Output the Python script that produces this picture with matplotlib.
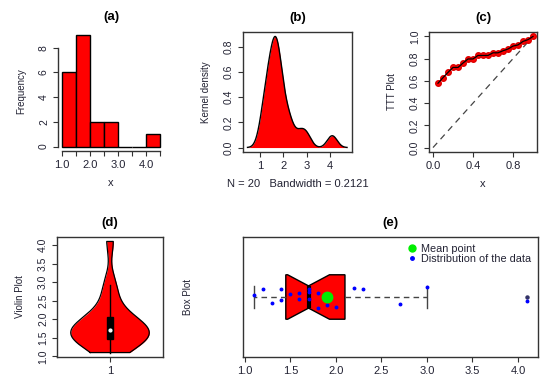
import numpy as np
import matplotlib.pyplot as plt
from matplotlib.lines import Line2D

# sample of 20 observations (read from the jittered points / histogram)
x_data = [1.1, 1.2, 1.3, 1.4, 1.4, 1.5, 1.6, 1.6, 1.7, 1.7,
          1.7, 1.8, 1.8, 1.9, 2.0, 2.2, 2.3, 2.7, 3.0, 4.1]
# vertical jitter of the blue points in panel (e), same order as x_data
jitter_y = [0.015, 0.07, -0.05, 0.07, -0.03, 0.03, 0.04, -0.015, 0.075, 0.045,
            -0.02, 0.04, -0.1, -0.075, -0.09, 0.08, 0.07, -0.06, 0.09, -0.04]
hist_breaks = [1.0, 1.5, 2.0, 2.5, 3.0, 3.5, 4.0, 4.5]
violin_bw = 0.33  # smoothing of the violin outline, estimated from its shape

TXT = '#222233'
LINE = '#333333'
plt.rcParams['font.family'] = ['Liberation Sans', 'DejaVu Sans']
plt.rcParams['font.size'] = 7
plt.rcParams['axes.edgecolor'] = LINE
plt.rcParams['axes.linewidth'] = 1.0
plt.rcParams['xtick.color'] = LINE
plt.rcParams['ytick.color'] = LINE
plt.rcParams['xtick.labelcolor'] = TXT
plt.rcParams['ytick.labelcolor'] = TXT
plt.rcParams['xtick.labelsize'] = 8
plt.rcParams['ytick.labelsize'] = 7.5
plt.rcParams['xtick.major.size'] = 3.5
plt.rcParams['ytick.major.size'] = 3.5
plt.rcParams['axes.labelcolor'] = TXT

W, H = 550, 385
fig = plt.figure(figsize=(W / 100, H / 100), dpi=100)


def px_axes(l, t, r, b):
    return fig.add_axes([l / W, (H - b) / H, (r - l) / W, (b - t) / H])


def r_style(ax, title, xlabel, ylabel):
    ax.set_title(title, fontsize=9.5, fontweight='bold', pad=8, color='black')
    ax.set_xlabel(xlabel, labelpad=6, fontsize=8)
    ax.set_ylabel(ylabel, labelpad=9, fontsize=7)
    ax.tick_params(axis='y', labelrotation=90, pad=3)
    ax.tick_params(axis='x', pad=3)
    for lab in ax.get_yticklabels():
        lab.set_va('center')


x = np.sort(np.array(x_data))
n = len(x)

# R helpers
q25, q75 = np.percentile(x, [25, 75])
sd = x.std(ddof=1)
bw = 0.9 * min(sd, (q75 - q25) / 1.34) * n ** -0.2


def kde(grid, h):
    z = (grid[:, None] - x[None, :]) / h
    return np.exp(-0.5 * z ** 2).sum(axis=1) / (n * h * np.sqrt(2 * np.pi))


def fivenum(v):
    n4 = np.floor((len(v) + 3) / 2) / 2
    d = np.array([1, n4, (len(v) + 1) / 2, len(v) + 1 - n4, len(v)])
    return 0.5 * (v[np.floor(d).astype(int) - 1] + v[np.ceil(d).astype(int) - 1])


# (a) histogram
ax = px_axes(58, 31, 164, 151)
edges = np.array(hist_breaks)
idx = np.searchsorted(edges, x, side='left') - 1
idx[idx < 0] = 0
counts = np.bincount(idx, minlength=len(edges) - 1)
ax.bar(edges[:-1], counts, width=0.5, align='edge', color='red',
       edgecolor='black', linewidth=1.0)
ax.set_xlim(0.86, 4.64)
ax.set_ylim(-0.36, 9.36)
ax.set_xticks(edges)
ax.set_xticklabels(['1.0', '', '2.0', '', '3.0', '', '4.0', ''])
ax.set_yticks([0, 2, 4, 6, 8])
for s in ['top', 'right']:
    ax.spines[s].set_visible(False)
ax.spines['left'].set_bounds(0, 8)
ax.spines['bottom'].set_bounds(1.0, 4.5)
r_style(ax, '(a)', 'x', 'Frequency')

# (b) kernel density
ax = px_axes(243, 32, 352, 152)
grid = np.linspace(x.min() - 3 * bw, x.max() + 3 * bw, 512)
dens = kde(grid, bw)
ax.fill_between(grid, dens, color='red', linewidth=0)
ax.plot(grid, dens, color='black', lw=1.0)
ax.set_xlim(0.27, 4.95)
ax.set_ylim(-0.04 * dens.max(), dens.max() * 1.04)
ax.set_xticks([1, 2, 3, 4])
ax.set_yticks([0.0, 0.2, 0.4, 0.6, 0.8])
ax.set_yticklabels(['0.0', '0.2', '0.4', '0.6', '0.8'])
r_style(ax, '(b)', 'N = %d   Bandwidth = %.4f' % (n, bw), 'Kernel density')

# (c) TTT plot
ax = px_axes(429, 32, 537, 152)
cum = np.cumsum(x)
i = np.arange(1, n + 1)
ttt = (cum + (n - i) * x) / cum[-1]
u = i / n
ax.plot([0, 1], [0, 1], color='#444444', lw=0.9, ls=(0, (5, 4)))
ax.plot(u, ttt, 'o', color='red', mec='#dd0000', ms=4, zorder=3)
ax.plot(u, ttt, color='black', lw=0.9, zorder=4)
ax.set_xlim(-0.04, 1.04)
ax.set_ylim(-0.04, 1.04)
ax.set_xticks([0.0, 0.4, 0.8])
ax.set_xticklabels(['0.0', '0.4', '0.8'])
ax.set_yticks([0.0, 0.2, 0.4, 0.6, 0.8, 1.0])
ax.set_yticklabels(['0.0', '0.2', '0.4', '0.6', '0.8', '1.0'])
r_style(ax, '(c)', 'x', 'TTT Plot')

# (d) violin plot
ax = px_axes(57, 237, 163, 357)
vg = np.linspace(x.min(), x.max(), 300)
vd = kde(vg, violin_bw)
half = 0.4 * vd / vd.max()
ax.fill_betweenx(vg, 1 - half, 1 + half, color='red', linewidth=0)
ax.plot(np.concatenate([1 - half, (1 + half)[::-1], [1 - half[0]]]),
        np.concatenate([vg, vg[::-1], [vg[0]]]), color='black', lw=0.9)
iqr = q75 - q25
w_lo = max(x.min(), q25 - 1.5 * iqr)
w_hi = min(x.max(), q75 + 1.5 * iqr)
ax.plot([1, 1], [w_lo, w_hi], color='black', lw=1.0)
ax.add_patch(plt.Rectangle((0.97, q25), 0.06, q75 - q25, color='black'))
ax.plot([1], [np.median(x)], 'o', color='white', ms=2)
ax.set_xlim(0.46, 1.54)
ax.set_ylim(0.98, 4.22)
ax.set_xticks([1])
ax.set_yticks([1.0, 1.5, 2.0, 2.5, 3.0, 3.5, 4.0])
ax.set_yticklabels(['1.0', '1.5', '2.0', '2.5', '3.0', '3.5', '4.0'])
r_style(ax, '(d)', '', 'Violin Plot')

# (e) notched box plot with jittered data
ax = px_axes(243, 237, 538, 357)
lo, q1, med, q3, hi = fivenum(x)
hspread = q3 - q1
whis_lo = x[x >= q1 - 1.5 * hspread].min()
whis_hi = x[x <= q3 + 1.5 * hspread].max()
notch = 1.58 * hspread / np.sqrt(n)
stats = [dict(med=med, q1=q1, q3=q3, whislo=whis_lo, whishi=whis_hi,
              cilo=med - notch, cihi=med + notch,
              fliers=x[(x < whis_lo) | (x > whis_hi)])]
ax.bxp(stats, positions=[1], widths=[0.4], capwidths=[0.2], shownotches=True,
       orientation='horizontal', patch_artist=True,
       boxprops=dict(facecolor='red', edgecolor='black', lw=1.0),
       whiskerprops=dict(color='#444444', ls=(0, (4, 3)), lw=1.0),
       capprops=dict(color='#444444', lw=1.0),
       medianprops=dict(color='black', lw=3),
       flierprops=dict(marker='o', ms=2.2, mfc='#333366', mec='#333366'))
ax.plot(x, 1 + np.array(jitter_y), 'o', color='blue', ms=1.8, zorder=4)
ax.plot([x.mean()], [1], 'o', color='#00ee00', ms=7.5, zorder=5)
ax.set_xlim(0.98, 4.22)
ax.set_ylim(0.46, 1.54)
ax.set_xticks([1.0, 1.5, 2.0, 2.5, 3.0, 3.5, 4.0])
ax.set_xticklabels(['1.0', '1.5', '2.0', '2.5', '3.0', '3.5', '4.0'])
ax.set_yticks([])
handles = [Line2D([], [], marker='o', ls='', color='#00ee00', ms=5),
           Line2D([], [], marker='o', ls='', color='blue', ms=2.5)]
ax.legend(handles, ['Mean point', 'Distribution of the data'], loc='upper right',
          frameon=False, fontsize=7.8, handletextpad=0.3, borderaxespad=0.2,
          labelspacing=0.05, handlelength=1.2, labelcolor=TXT)
r_style(ax, '(e)', '', 'Box Plot')
ax.yaxis.labelpad = 36

fig.savefig('out.png', dpi=100)
